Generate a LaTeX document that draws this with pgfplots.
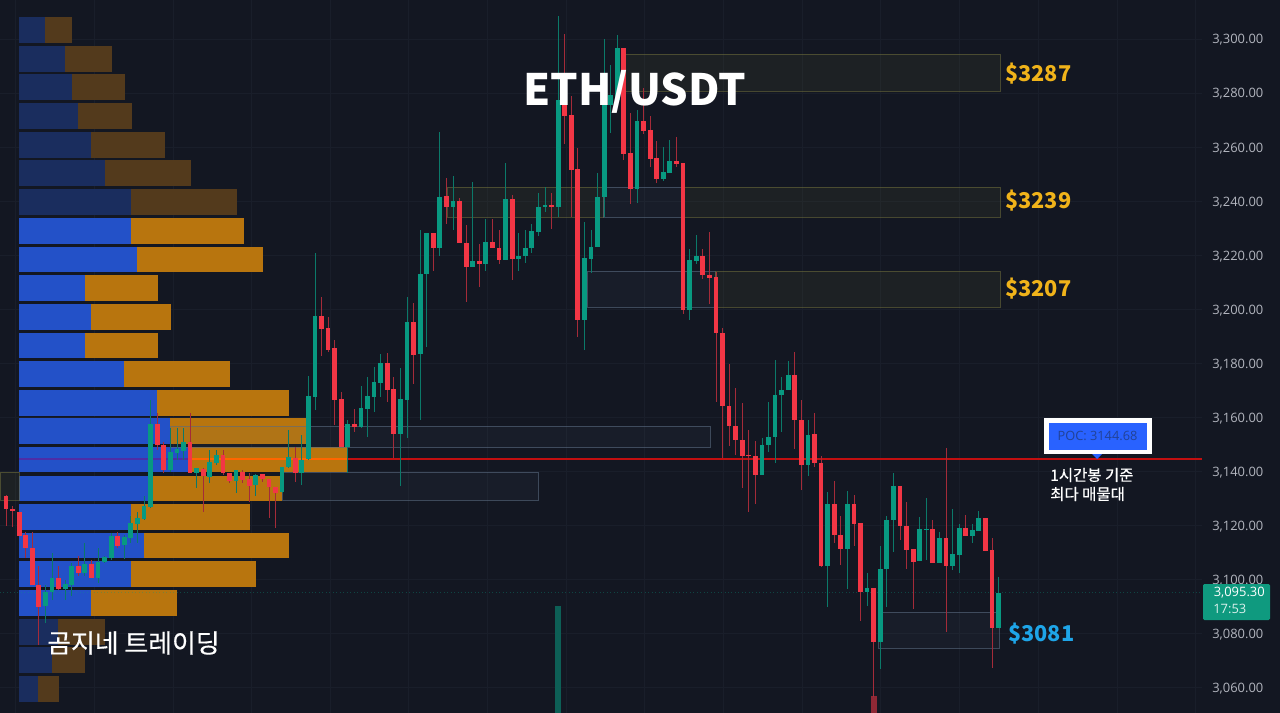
\documentclass[border=0pt]{standalone}
\usepackage{pgfplots}
\pgfplotsset{compat=1.18}
\usepackage{pgfplotstable}
\usepackage{fontspec}
\setmainfont{Open Sans}
\newfontfamily\cjk{Noto Sans CJK KR}
\newfontfamily\cjkm[FakeBold=0.5]{Noto Sans CJK KR}
\definecolor{bg}{HTML}{131722}
\definecolor{gridc}{HTML}{191E2A}
\definecolor{up}{HTML}{089981}
\definecolor{down}{HTML}{F23645}
\definecolor{pblue}{HTML}{2351C8}
\definecolor{porange}{HTML}{B8750E}
\definecolor{dblue}{HTML}{1A2D5E}
\definecolor{dorange}{HTML}{533A1C}
\definecolor{ticktxt}{HTML}{B2B5BE}
\definecolor{pocred}{HTML}{C20F10}
\definecolor{olive}{HTML}{6B6A3A}
\definecolor{slate}{HTML}{5A6B80}
\definecolor{gold}{RGB}{240,179,26}
\definecolor{sky}{RGB}{30,165,232}
\definecolor{tvblue}{RGB}{41,98,255}
\definecolor{poctxt}{RGB}{34,66,150}
\definecolor{pricebox}{RGB}{15,154,127}

% profile rows: price centre, end of blue part, end of orange part
\pgfplotstableread{
p b e
3303.3 45 72
3292.6 65 112
3282.2 72 125
3271.5 78 132
3260.8 91 165
3250.4 105 191
3239.7 131 237
3080.7 58 105
3070.3 52 85
3059.6 38 59
}\profdim
\pgfplotstableread{
p b e
3229.0 131 244
3218.5 137 263
3207.9 85 158
3197.2 91 171
3186.6 85 158
3176.1 124 230
3165.4 157 289
3155.0 170 306
3144.5 190 348
3133.8 152 282
3123.2 131 250
3112.7 144 289
3102.2 131 256
3091.4 91 177
}\profbri

% candles: index, body top, body bottom, high, low
\pgfplotstableread{
n top bot high low
1 3130.8 3126.1 3131.4 3119.9
2 3126.1 3125.3 3127.3 3119.4
3 3125.2 3116.2 3125.2 3116.2
4 3116.6 3111.6 3117.8 3108.0
5 3111.9 3098.1 3117.8 3098.1
6 3098.1 3089.8 3104.9 3075.9
9 3100.8 3096.7 3105.1 3096.2
12 3104.9 3102.6 3108.6 3101.2
14 3105.9 3100.8 3107.3 3100.5
18 3116.2 3112.6 3117.8 3111.6
24 3157.6 3149.9 3161.6 3148.0
25 3149.9 3140.6 3151.1 3139.4
29 3151.1 3139.6 3161.6 3139.4
31 3141.0 3138.4 3141.2 3125.2
34 3146.2 3139.4 3148.0 3138.8
35 3139.4 3136.4 3139.4 3135.7
37 3140.0 3136.9 3140.6 3135.7
38 3137.2 3134.7 3139.4 3128.9
40 3139.1 3137.2 3139.1 3136.3
41 3137.4 3134.4 3137.4 3122.7
42 3134.4 3132.2 3134.4 3119.0
45 3144.9 3139.4 3149.2 3136.3
49 3197.7 3192.8 3204.5 3182.8
50 3193.0 3185.0 3197.3 3184.4
51 3185.6 3166.5 3188.7 3157.2
52 3166.9 3149.2 3169.5 3149.2
54 3157.5 3156.6 3163.0 3154.8
59 3180.1 3170.0 3183.8 3165.9
60 3170.4 3153.9 3175.1 3144.9
63 3195.5 3183.3 3202.5 3172.4
66 3228.1 3222.6 3228.1 3214.3
68 3242.0 3237.8 3248.6 3231.6
70 3240.0 3224.4 3241.2 3224.4
71 3224.7 3215.8 3231.2 3202.9
73 3218.0 3216.8 3224.2 3208.4
75 3224.9 3222.6 3233.3 3222.6
76 3222.6 3218.3 3229.4 3216.8
78 3241.0 3218.8 3242.3 3210.9
84 3238.6 3237.8 3243.0 3229.6
86 3277.7 3271.5 3301.8 3261.2
87 3271.9 3251.6 3278.9 3234.3
88 3251.8 3196.1 3259.6 3189.9
95 3296.8 3257.5 3296.8 3255.2
96 3257.7 3244.5 3272.5 3239.0
98 3269.8 3266.1 3281.7 3264.9
99 3266.3 3255.7 3271.5 3252.5
100 3256.0 3248.1 3262.4 3246.6
103 3255.0 3253.8 3263.9 3252.8
104 3254.0 3199.8 3254.0 3198.3
107 3219.9 3212.7 3222.2 3211.1
108 3212.8 3211.6 3228.7 3202.0
109 3211.9 3191.1 3214.0 3165.9
110 3191.1 3164.3 3193.0 3144.9
111 3164.3 3156.9 3179.8 3149.5
112 3156.9 3151.7 3170.8 3146.2
113 3151.7 3145.8 3165.3 3133.8
114 3146.2 3145.8 3155.2 3125.2
115 3145.8 3138.8 3151.5 3128.0
121 3175.6 3159.1 3184.1 3148.2
122 3159.1 3142.5 3166.5 3133.2
124 3153.8 3143.3 3161.6 3141.8
125 3143.3 3104.9 3145.8 3104.6
127 3128.0 3116.6 3136.6 3113.7
128 3116.6 3111.4 3123.6 3105.5
130 3127.9 3120.6 3131.4 3112.3
131 3120.9 3095.4 3120.9 3084.9
133 3096.8 3077.1 3096.8 3056.8
137 3134.7 3119.9 3134.7 3114.7
138 3119.9 3111.0 3128.9 3103.9
139 3111.3 3106.7 3111.3 3089.1
142 3118.8 3106.3 3122.1 3106.1
144 3115.5 3105.2 3148.6 3080.8
147 3119.3 3116.0 3124.0 3116.0
150 3123.0 3110.8 3123.0 3110.8
151 3111.0 3082.0 3115.3 3067.5
}\downc
\pgfplotstableread{
n top bot high low
7 3095.6 3090.1 3098.1 3083.9
8 3100.8 3095.3 3110.0 3092.5
10 3098.3 3096.7 3099.9 3092.5
11 3104.9 3098.0 3106.1 3093.8
13 3105.9 3102.6 3113.5 3101.2
15 3106.7 3100.8 3111.6 3098.7
16 3108.3 3106.5 3108.6 3106.1
17 3116.3 3108.1 3117.2 3107.3
19 3115.7 3112.8 3116.6 3107.6
20 3120.9 3115.3 3123.4 3113.5
21 3122.7 3120.6 3125.2 3113.5
22 3127.1 3122.5 3130.8 3122.1
23 3157.6 3126.8 3166.5 3126.4
26 3147.1 3140.6 3156.0 3140.0
27 3148.3 3147.0 3156.0 3144.3
28 3151.1 3147.8 3156.0 3144.3
30 3141.2 3139.4 3141.2 3133.8
32 3143.6 3138.1 3148.0 3135.7
33 3146.2 3143.3 3148.0 3142.5
36 3140.4 3136.4 3140.4 3132.0
39 3138.6 3135.1 3139.1 3130.8
43 3141.8 3132.5 3141.8 3132.0
44 3145.3 3141.6 3155.4 3141.2
46 3144.3 3139.4 3153.6 3135.1
47 3168.0 3144.6 3175.4 3144.3
48 3197.7 3167.7 3221.0 3162.8
53 3157.5 3149.2 3159.1 3139.4
55 3163.4 3156.6 3171.8 3156.0
56 3168.0 3163.2 3174.9 3152.7
57 3173.0 3167.7 3178.8 3162.2
58 3180.1 3172.7 3183.5 3167.7
61 3166.9 3153.9 3178.2 3134.7
62 3195.2 3166.5 3204.7 3152.3
64 3213.1 3183.5 3229.4 3159.1
65 3228.1 3212.9 3228.1 3186.2
67 3241.7 3222.6 3265.6 3219.8
69 3240.0 3237.8 3249.3 3229.4
72 3218.0 3215.8 3247.1 3215.6
74 3224.9 3216.8 3233.3 3214.0
77 3241.0 3218.3 3254.1 3218.3
79 3219.8 3218.8 3228.4 3214.3
80 3222.6 3219.8 3229.4 3217.3
81 3228.8 3222.6 3231.5 3221.0
82 3237.8 3228.5 3243.0 3227.2
83 3238.6 3237.8 3245.2 3236.2
85 3277.4 3237.7 3308.5 3234.3
89 3218.9 3196.1 3232.4 3185.0
90 3223.2 3218.5 3229.4 3213.3
91 3241.7 3222.9 3250.6 3222.9
92 3276.8 3241.4 3299.9 3234.3
93 3279.3 3275.6 3290.4 3265.1
94 3296.8 3277.4 3301.5 3277.4
97 3269.8 3244.5 3273.7 3239.5
101 3250.7 3248.1 3259.9 3247.6
102 3255.0 3250.6 3262.6 3250.3
105 3218.3 3199.8 3222.2 3196.1
106 3219.9 3218.0 3227.5 3216.8
116 3149.9 3138.8 3152.3 3138.8
117 3152.7 3149.9 3165.9 3147.4
118 3168.5 3152.7 3181.3 3143.3
119 3170.2 3168.2 3175.1 3154.8
120 3175.6 3170.2 3181.0 3170.0
123 3153.6 3142.5 3159.1 3138.5
126 3128.0 3104.9 3132.6 3090.1
129 3127.9 3111.4 3132.8 3096.5
132 3097.0 3095.4 3102.4 3090.3
134 3103.9 3077.1 3112.3 3066.9
135 3122.1 3103.9 3123.4 3089.8
136 3134.7 3122.1 3139.6 3110.4
140 3118.7 3107.1 3123.1 3107.1
141 3118.8 3118.4 3130.1 3107.3
143 3115.5 3106.3 3117.8 3106.1
145 3109.4 3105.2 3126.1 3103.6
146 3119.3 3109.2 3120.6 3102.6
148 3118.4 3116.0 3120.6 3113.5
149 3123.0 3118.2 3125.6 3118.2
152 3095.0 3082.0 3100.9 3082.0
}\upc

\pgfplotsset{
  sheet/.style={scale only axis, width=960pt, height=534.75pt,
    at={(0pt,-534.75pt)}, anchor=south west,
    ymin=3050.7, ymax=3314.42, clip=true},
  hbars/.style={draw=none, mark=none, forget plot,
    error bars/.cd, x dir=both, x explicit, error mark=none,
    error bar style={line width=19.2pt, color=#1}},
  vbars/.style 2 args={draw=none, mark=none, forget plot,
    error bars/.cd, y dir=both, y explicit, error mark=none,
    error bar style={line width=#2, color=#1}},
  zone/.style 2 args={fill=#1, fill opacity=#2, draw=#1, draw opacity=.6, line width=.5pt, forget plot},
}

\begin{document}
\begin{tikzpicture}[x=.75pt,y=-.75pt]
\path[use as bounding box] (0,0) rectangle (1280,713);
\fill[bg] (0,0) rectangle (1280,713);

% ---- price scale, profile, zones (x in pixels)
\begin{axis}[sheet, xmin=0, xmax=1280,
  axis line style={draw=none}, major tick length=0pt,
  xtick={15,94,173,251,330,408,487,566,644,723,802,880,959,1038,1117,1195},
  xticklabels={}, xmajorgrids, x grid style={gridc, line width=.6pt},
  ytick={3060,3080,...,3300}, yticklabel pos=right,
  yticklabel style={anchor=east, xshift=-9pt, yshift=-.8pt, text=ticktxt, font=\fontsize{9.7}{11}\selectfont,
    /pgf/number format/.cd, fixed, fixed zerofill, precision=2, 1000 sep={,}, assume math mode=true}]
\pgfplotsinvokeforeach{3060,3080,...,3300}{
  \addplot[gridc, line width=.6pt, forget plot] coordinates {(0,#1) (1202,#1)};
}
\addplot[hbars=dblue] table[x expr={(19+\thisrow{b})/2}, y=p, x error expr={(\thisrow{b}-19)/2}] {\profdim};
\addplot[hbars=dorange] table[x expr={(\thisrow{b}+\thisrow{e})/2}, y=p, x error expr={(\thisrow{e}-\thisrow{b})/2}] {\profdim};
\addplot[hbars=pblue] table[x expr={(19+\thisrow{b})/2}, y=p, x error expr={(\thisrow{b}-19)/2}] {\profbri};
\addplot[hbars=porange] table[x expr={(\thisrow{b}+\thisrow{e})/2}, y=p, x error expr={(\thisrow{e}-\thisrow{b})/2}] {\profbri};

% zones
\addplot[zone={olive}{.12}] coordinates {(625,3294.45) (1000,3294.45) (1000,3280.75) (625,3280.75)} --cycle;
\addplot[zone={olive}{.12}] coordinates {(447,3245.3) (603,3245.3) (603,3234.2) (447,3234.2)} --cycle;
\addplot[zone={slate}{.08}] coordinates {(603,3245.3) (682,3245.3) (682,3234.2) (603,3234.2)} --cycle;
\addplot[zone={olive}{.12}] coordinates {(682,3245.3) (1000,3245.3) (1000,3234.2) (682,3234.2)} --cycle;
\addplot[zone={slate}{.08}] coordinates {(587,3214.2) (715,3214.2) (715,3200.9) (587,3200.9)} --cycle;
\addplot[zone={olive}{.12}] coordinates {(715,3214.2) (1000,3214.2) (1000,3200.9) (715,3200.9)} --cycle;
\addplot[zone={slate}{.08}] coordinates {(170,3156.9) (710,3156.9) (710,3148.8) (170,3148.8)} --cycle;
\addplot[zone={slate}{.08}] coordinates {(282,3139.9) (538,3139.9) (538,3129.5) (282,3129.5)} --cycle;
\addplot[zone={olive}{.12}] coordinates {(0,3139.9) (19,3139.9) (19,3129.5) (0,3129.5)} --cycle;
\addplot[zone={slate}{.08}] coordinates {(878,3088.1) (999,3088.1) (999,3074.8) (878,3074.8)} --cycle;

% last price and POC lines
\addplot[color=up, opacity=.35, line width=.6pt, dotted, forget plot] coordinates {(0,3095.3) (1202,3095.3)};
\addplot[color=violet!45!pblue, line width=.9pt, forget plot] coordinates {(19,3144.68) (190,3144.68)};
\addplot[color=orange!80!red, line width=1.2pt, forget plot] coordinates {(190,3144.68) (348,3144.68)};
\addplot[color=pocred, line width=1.5pt, forget plot] coordinates {(348,3144.68) (1202,3144.68)};
\end{axis}

% ---- candles (x = candle number)
\begin{axis}[sheet, hide axis, xmin=0.0872, xmax=194.82]
% volume bars at the foot of the chart
\addplot[vbars={up!55!bg}{4.5pt}] table[x=n, y expr={(\thisrow{top}+\thisrow{bot})/2}, y error expr={(\thisrow{top}-\thisrow{bot})/2}] {
n top bot
85 3090.4 3040
};
\addplot[vbars={down!55!bg}{4.5pt}] table[x=n, y expr={(\thisrow{top}+\thisrow{bot})/2}, y error expr={(\thisrow{top}-\thisrow{bot})/2}] {
n top bot
133 3057.0 3040
};
\addplot[vbars={up!75!bg}{.6pt}] table[x=n, y expr={(\thisrow{high}+\thisrow{low})/2}, y error expr={(\thisrow{high}-\thisrow{low})/2}] {\upc};
\addplot[vbars={down!65!bg}{.6pt}] table[x=n, y expr={(\thisrow{high}+\thisrow{low})/2}, y error expr={(\thisrow{high}-\thisrow{low})/2}] {\downc};
\addplot[vbars={up}{3.6pt}] table[x=n, y expr={(\thisrow{top}+\thisrow{bot})/2}, y error expr={(\thisrow{top}-\thisrow{bot})/2}] {\upc};
\addplot[vbars={down}{3.6pt}] table[x=n, y expr={(\thisrow{top}+\thisrow{bot})/2}, y error expr={(\thisrow{top}-\thisrow{bot})/2}] {\downc};
\end{axis}

% ---- annotations, in pixels of the picture
\node[font=\cjk\bfseries\fontsize{32.4}{36}\selectfont, text=white, inner sep=0pt] at (634.5,91.5) {ETH/USDT};
\node[font=\cjkm\fontsize{19.4}{22}\selectfont, text=white, anchor=west, inner sep=0pt] at (47,643) {곰지네 트레이딩};
\foreach \t/\yy in {3287/74,3239/201,3207/289}
  \node[font=\cjk\bfseries\fontsize{16.3}{20}\selectfont, text=gold, anchor=west, inner sep=0pt] at (1005,\yy) {\$\t};
\node[font=\cjk\bfseries\fontsize{16.3}{20}\selectfont, text=sky, anchor=west, inner sep=0pt] at (1008,634) {\$3081};

\fill[white] (1044,418) rectangle (1152,454);
\fill[tvblue] (1049,423) rectangle (1147,450);
\fill[tvblue] (1092,454) -- (1102,454) -- (1097,459) -- cycle;
\node[font=\fontsize{9.6}{11}\selectfont, text=poctxt, inner sep=0pt] at (1097.5,436) {POC: 3144.68};
\node[font=\cjkm\fontsize{11.6}{14}\selectfont, text=white, anchor=west, inner sep=0pt] at (1050,475) {1시간봉 기준};
\node[font=\cjkm\fontsize{11.6}{14}\selectfont, text=white, anchor=west, inner sep=0pt] at (1050,494) {최다 매물대};

\fill[pricebox, rounded corners=1pt] (1203,584) rectangle (1270,620);
\node[font=\fontsize{9.7}{11}\selectfont, text=white, anchor=east, inner sep=0pt] at (1265,593) {3,095.30};
\node[font=\fontsize{9.7}{11}\selectfont, text=white!85!up, anchor=west, inner sep=0pt] at (1213,609) {17:53};
\end{tikzpicture}
\end{document}
